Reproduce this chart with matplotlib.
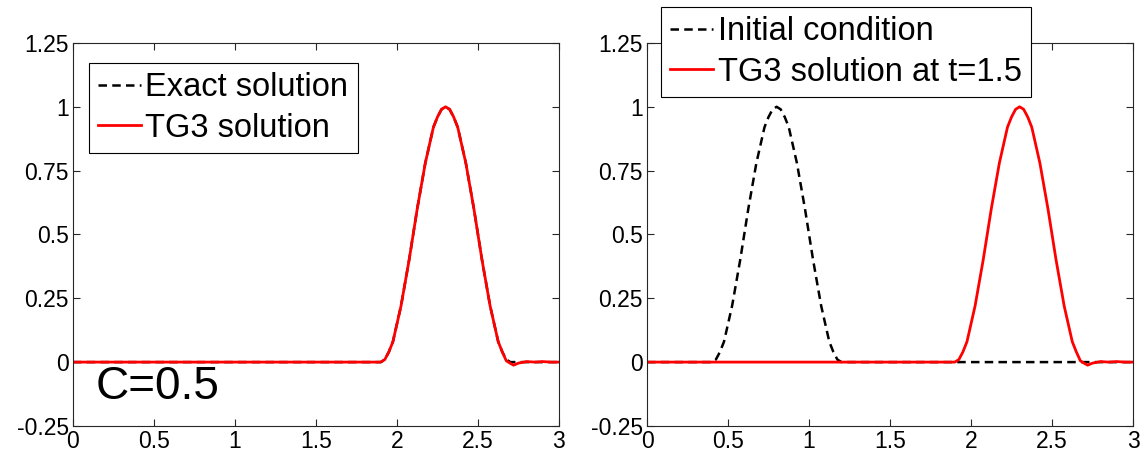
import numpy as np
import matplotlib.pyplot as plt

plt.rcParams['font.family'] = ['Liberation Sans', 'DejaVu Sans']

pulse_y = [0, 0.01, 0.04, 0.08, 0.15, 0.22, 0.31, 0.40, 0.50, 0.60, 0.69, 0.78,
           0.85, 0.92, 0.96, 0.99, 1.0, 0.99, 0.96, 0.92, 0.85, 0.78, 0.69, 0.60,
           0.50, 0.40, 0.31, 0.22, 0.15, 0.08, 0.04, 0.01, 0]

init_x = [0] + list(np.round(np.arange(0.4, 1.2001, 0.025), 3)) + [3]
init_y = [0] + pulse_y + [0]

exact_x = [0] + list(np.round(np.arange(1.9, 2.7001, 0.025), 3)) + [3]
exact_y = [0] + pulse_y + [0]

# TG3 result: same pulse with a small undershoot behind it
tg3_x = [0] + list(np.round(np.arange(1.9, 2.7001, 0.025), 3)) + [2.72, 2.75, 2.8, 2.85, 2.9, 2.95, 3]
tg3_y = [0] + pulse_y[:-2] + [0.005, -0.005, -0.012, -0.004, 0.002, 0.0, 0.002, 0.0, 0.0]

xticks = [0, 0.5, 1, 1.5, 2, 2.5, 3]
yticks = [-0.25, 0, 0.25, 0.5, 0.75, 1, 1.25]

fig = plt.figure(figsize=(11.44, 4.57), dpi=100)
ax1 = fig.add_axes([0.0638, 0.068, 0.4248, 0.838])
ax2 = fig.add_axes([0.5656, 0.068, 0.4248, 0.838])

dash = (3.4, 2.1)

ax1.plot(exact_x, exact_y, color='k', lw=1.8, dashes=dash, label='Exact solution')
ax1.plot(tg3_x, tg3_y, color='#ff0000', lw=2, label='TG3 solution')

ax2.plot(init_x, init_y, color='k', lw=1.8, dashes=dash, label='Initial condition')
ax2.plot(tg3_x, tg3_y, color='#ff0000', lw=2, label='TG3 solution at t=1.5')

ax1.text(0.14, -0.145, 'C=0.5', fontsize=33)

for ax in (ax1, ax2):
    ax.set_xlim(0, 3)
    ax.set_ylim(-0.25, 1.25)
    ax.set_xticks(xticks)
    ax.set_yticks(yticks)
    ax.set_xticklabels(['%g' % t for t in xticks])
    ax.set_yticklabels(['%g' % t for t in yticks])
    ax.tick_params(direction='in', top=True, right=True, length=5, width=0.8,
                   labelsize=16.5, pad=3, colors='#262626', labelcolor='k')
    for s in ax.spines.values():
        s.set_color('#262626')
        s.set_linewidth(0.8)

leg_kw = dict(loc='upper left', fontsize=23.5, fancybox=False, framealpha=1,
              edgecolor='k', borderaxespad=0, handlelength=1.3,
              handletextpad=0.15, labelspacing=0.3, borderpad=0.28)
l1 = ax1.legend(bbox_to_anchor=(0.033, 0.948), **leg_kw)
l2 = ax2.legend(bbox_to_anchor=(0.029, 1.094), **leg_kw)
for l in (l1, l2):
    l.get_frame().set_linewidth(0.8)

fig.savefig('out.png', dpi=100)
